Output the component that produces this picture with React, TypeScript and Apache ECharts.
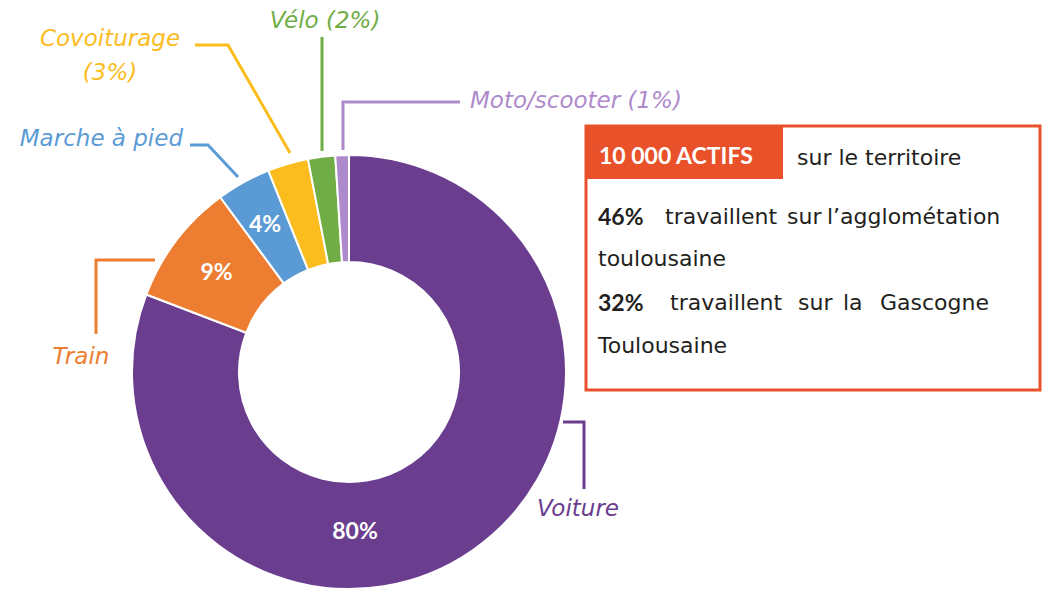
import React, { useEffect, useRef } from "react";
import * as echarts from "echarts";

// ---- Data ----
const categories = ["Voiture", "Train", "Marche à pied", "Covoiturage", "Vélo", "Moto/scooter"];
const shares = [80, 9, 4, 3, 2, 1];
const shareInName = [false, false, false, true, true, true];
const shareOnNewLine = [false, false, false, true, false, false];
const shareInside = [true, true, true, false, false, false];

const headline = "10 000 ACTIFS";
const headlineRest = "sur le territoire";
const stat1Value = "46%";
const stat1Words = ["travaillent", "sur", "l’agglométation"];
const stat1Rest = "toulousaine";
const stat2Value = "32%";
const stat2Words = ["travaillent", "sur", "la", "Gascogne"];
const stat2Rest = "Toulousaine";

// ---- Styles / layout ----
const colors = ["#6A3D8F", "#ED7D31", "#5B9BD5", "#FBBC1E", "#70AD47", "#AE8ACB"];
const accent = "#E8512A";
const textDark = "#231F20";

const outerLabelLayout: any[] = [
  { x: 578, y: 508, align: "center", line: [[563, 422], [584, 422], [584, 489]] },
  { x: 81, y: 356, align: "center", line: [[155, 260], [96, 260], [96, 334]] },
  { x: 183, y: 138, align: "right", line: [[238, 177], [208, 145], [190, 145]] },
  { x: 110, y: 55, align: "center", line: [[290, 153], [228, 45], [195, 45]] },
  { x: 325, y: 20, align: "center", line: [[322, 151], [322, 37]] },
  { x: 470, y: 100, align: "left", line: [[343, 150], [343, 102], [460, 102]] },
];
const insideLabelMove: any = { 0: { x: 355, y: 530 }, 2: { x: 265, y: 223 } };

const stat1X = [665, 787, 827];
const stat2X = [670, 798, 843, 880];

export default function App() {
  const ref = useRef<HTMLDivElement>(null);
  useEffect(() => {
    if (!ref.current) return;
    const chart = echarts.init(ref.current, undefined, { renderer: "svg" });

    const mainData = categories.map((name, i) => ({
      name,
      value: shares[i],
      itemStyle: { color: colors[i] },
      label: { show: shareInside[i] },
    }));

    const outerData = categories.map((name, i) => ({
      name,
      value: shares[i],
      itemStyle: { color: "rgba(0,0,0,0)" },
      label: {
        color: colors[i],
        formatter: () =>
          shareInName[i]
            ? name + (shareOnNewLine[i] ? "\n" : " ") + "(" + shares[i] + "%)"
            : name,
      },
      labelLine: { lineStyle: { color: colors[i], width: 3 } },
    }));

    const txt = (text: string, x: number, y: number, bold = false, fill = textDark) => ({
      type: "text",
      x,
      y,
      style: {
        text,
        fill,
        fontFamily: bold ? "Lato" : "DejaVu Sans",
        fontWeight: bold ? "bold" : "normal",
        fontSize: bold ? 23 : 22,
        verticalAlign: "middle",
        align: "left",
      },
    });

    const graphic: any[] = [
      { type: "rect", shape: { x: 586, y: 126, width: 454, height: 264 }, style: { fill: "none", stroke: accent, lineWidth: 3 } },
      { type: "rect", shape: { x: 586, y: 126, width: 197, height: 53 }, style: { fill: accent } },
      txt(headline, 599, 155, true, "#ffffff"),
      txt(headlineRest, 797, 157),
      txt(stat1Value, 598, 216, true),
      ...stat1Words.map((w, i) => txt(w, stat1X[i], 216)),
      txt(stat1Rest, 598, 258),
      txt(stat2Value, 598, 302, true),
      ...stat2Words.map((w, i) => txt(w, stat2X[i], 302)),
      txt(stat2Rest, 598, 345),
    ];

    chart.setOption({
      animation: false,
      backgroundColor: "#ffffff",
      graphic,
      series: [
        {
          type: "pie",
          center: [349, 372],
          radius: [110, 217],
          startAngle: 90,
          clockwise: true,
          avoidLabelOverlap: false,
          silent: true,
          itemStyle: { borderColor: "#ffffff", borderWidth: 2 },
          label: {
            position: "inside",
            formatter: "{c}%",
            color: "#ffffff",
            fontFamily: "Lato",
            fontWeight: "bold",
            fontSize: 23,
          },
          labelLine: { show: false },
          labelLayout: (p: any) => {
            const m = insideLabelMove[p.dataIndex];
            return m ? { x: m.x, y: m.y, align: "center", verticalAlign: "middle" } : {};
          },
          data: mainData,
        },
        {
          type: "pie",
          center: [349, 372],
          radius: [110, 217],
          startAngle: 90,
          clockwise: true,
          avoidLabelOverlap: false,
          silent: true,
          label: {
            position: "outside",
            fontFamily: "DejaVu Sans",
            fontStyle: "italic",
            fontSize: 23,
            lineHeight: 34,
            align: "center",
          },
          labelLine: { show: true, length: 10, length2: 10 },
          labelLayout: (p: any) => {
            const l = outerLabelLayout[p.dataIndex];
            return {
              x: l.x,
              y: l.y,
              align: l.align,
              verticalAlign: "middle",
              labelLinePoints: l.line,
            };
          },
          data: outerData,
        },
      ],
    });
    return () => chart.dispose();
  }, []);

  return (
    <div
      ref={ref}
      style={{ position: "fixed", left: 0, top: 0, width: 1046, height: 589, background: "#fff" }}
    />
  );
}
